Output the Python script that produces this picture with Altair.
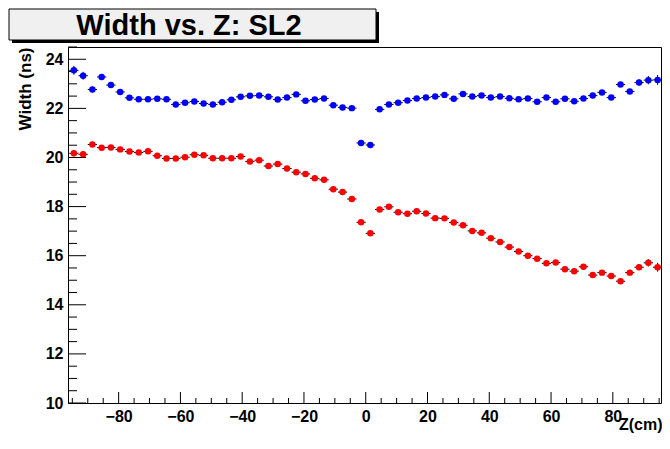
import altair as alt
import pandas as pd

# ---------------- data ----------------
z_centers = [-94.5, -91.5, -88.5, -85.5, -82.5, -79.5, -76.5, -73.5, -70.5, -67.5,
             -64.5, -61.5, -58.5, -55.5, -52.5, -49.5, -46.5, -43.5, -40.5, -37.5,
             -34.5, -31.5, -28.5, -25.5, -22.5, -19.5, -16.5, -13.5, -10.5, -7.5,
             -4.5, -1.5, 1.5, 4.5, 7.5, 10.5, 13.5, 16.5, 19.5, 22.5,
             25.5, 28.5, 31.5, 34.5, 37.5, 40.5, 43.5, 46.5, 49.5, 52.5,
             55.5, 58.5, 61.5, 64.5, 67.5, 70.5, 73.5, 76.5, 79.5, 82.5,
             85.5, 88.5, 91.5, 94.5]
bin_half_width = 1.5

blue_width = [23.55, 23.33, 22.77, 23.28, 22.95, 22.67, 22.43, 22.37, 22.37, 22.39,
              22.37, 22.16, 22.23, 22.28, 22.20, 22.16, 22.25, 22.35, 22.47, 22.51,
              22.52, 22.47, 22.36, 22.44, 22.57, 22.31, 22.36, 22.40, 22.13, 22.04,
              22.01, 20.59, 20.51, 21.96, 22.16, 22.23, 22.32, 22.40, 22.44, 22.48,
              22.55, 22.39, 22.59, 22.48, 22.52, 22.44, 22.48, 22.41, 22.37, 22.40,
              22.27, 22.44, 22.27, 22.39, 22.29, 22.40, 22.52, 22.65, 22.44, 22.97,
              22.69, 23.05, 23.15, 23.16]
blue_err = [0.18, 0.16, 0.12, 0.10, 0.08, 0.07, 0.06, 0.06, 0.05, 0.05,
            0.05, 0.05, 0.05, 0.05, 0.05, 0.05, 0.05, 0.05, 0.05, 0.05,
            0.05, 0.05, 0.05, 0.05, 0.05, 0.05, 0.05, 0.05, 0.05, 0.05,
            0.05, 0.05, 0.05, 0.05, 0.05, 0.05, 0.05, 0.05, 0.05, 0.05,
            0.05, 0.05, 0.05, 0.05, 0.05, 0.05, 0.05, 0.05, 0.05, 0.05,
            0.05, 0.05, 0.05, 0.05, 0.05, 0.06, 0.07, 0.08, 0.10, 0.10,
            0.10, 0.13, 0.17, 0.20]

red_width = [20.17, 20.13, 20.53, 20.40, 20.41, 20.33, 20.24, 20.20, 20.25, 20.07,
             19.96, 19.96, 20.01, 20.11, 20.09, 19.97, 19.97, 19.97, 20.04, 19.84,
             19.89, 19.65, 19.73, 19.55, 19.40, 19.33, 19.15, 19.09, 18.71, 18.59,
             18.31, 17.36, 16.91, 17.88, 17.99, 17.77, 17.71, 17.81, 17.72, 17.53,
             17.52, 17.35, 17.24, 17.01, 16.93, 16.71, 16.56, 16.35, 16.17, 16.00,
             15.88, 15.69, 15.72, 15.45, 15.37, 15.55, 15.21, 15.31, 15.17, 14.96,
             15.31, 15.53, 15.71, 15.53]
red_err = [0.12, 0.12, 0.08, 0.07, 0.06, 0.05, 0.05, 0.05, 0.05, 0.05,
           0.05, 0.05, 0.05, 0.05, 0.05, 0.05, 0.05, 0.05, 0.05, 0.05,
           0.05, 0.05, 0.05, 0.05, 0.05, 0.05, 0.05, 0.05, 0.05, 0.05,
           0.05, 0.05, 0.05, 0.05, 0.05, 0.05, 0.05, 0.05, 0.05, 0.05,
           0.05, 0.05, 0.05, 0.05, 0.05, 0.05, 0.05, 0.05, 0.05, 0.05,
           0.05, 0.05, 0.05, 0.05, 0.05, 0.06, 0.06, 0.07, 0.08, 0.08,
           0.10, 0.12, 0.15, 0.18]

series_names = ["blue", "red"]
series_colors = ["#0000ff", "#ff0000"]

y_major_ticks = [10, 12, 14, 16, 18, 20, 22, 24]
y_minor_ticks = [10.5, 11, 11.5, 12.5, 13, 13.5, 14.5, 15, 15.5, 16.5, 17, 17.5,
                 18.5, 19, 19.5, 20.5, 21, 21.5, 22.5, 23, 23.5, 24.5]
x_major_ticks = [-80, -60, -40, -20, 0, 20, 40, 60, 80]
x_minor_ticks = [-95, -90, -85, -75, -70, -65, -55, -50, -45, -35, -30, -25,
                 -15, -10, -5, 5, 10, 15, 25, 30, 35, 45, 50, 55, 65, 70, 75,
                 85, 90, 95]

title_text = "Width vs. Z: SL2"
x_title = "Z(cm)"
y_title = "Width (ns)"

# ---------------- tables ----------------
rows = []
for name, vals, errs in [("blue", blue_width, blue_err), ("red", red_width, red_err)]:
    for z, w, e in zip(z_centers, vals, errs):
        rows.append({"series": name, "z": z, "w": w,
                     "zlo": z - bin_half_width, "zhi": z + bin_half_width,
                     "wlo": w - e, "whi": w + e})
df = pd.DataFrame(rows)

W, H = 593, 356
FONT = "Liberation Sans"

xscale = alt.Scale(domain=[-96.4, 95.6], nice=False, zero=False)
yscale = alt.Scale(domain=[10, 24.5], nice=False, zero=False)

xaxis = alt.Axis(values=x_major_ticks, title=x_title, domain=False, ticks=False,
                 tickSize=0, grid=False, labelPadding=5, labelFont=FONT,
                 labelFontSize=16, labelFontWeight="bold", labelColor="black",
                 titleFont=FONT, titleFontSize=16, titleFontWeight="bold",
                 titleColor="black", titleAnchor="end", titleAlign="right",
                 titleBaseline="alphabetic", titleX=W + 1, titleY=26,
                 labelFlush=False, labelOverlap=False)
yaxis = alt.Axis(values=y_major_ticks, title=y_title, domain=False, ticks=False,
                 tickSize=0, grid=False, labelPadding=5, labelFont=FONT,
                 labelFontSize=16, labelFontWeight="bold", labelColor="black",
                 titleFont=FONT, titleFontSize=17, titleFontWeight="bold",
                 titleColor="black", titleAnchor="end", titleAlign="right",
                 titleBaseline="alphabetic", titleAngle=270, titleX=-38, titleY=0,
                 labelFlush=False, labelOverlap=False)


def X(f):
    return alt.X(f, type="quantitative", scale=xscale, axis=xaxis)


def Y(f):
    return alt.Y(f, type="quantitative", scale=yscale, axis=yaxis)


hbars = alt.Chart(df).mark_rule(color="black", strokeWidth=1).encode(
    x=X("zlo"), x2="zhi", y=Y("w"))
vbars = alt.Chart(df).mark_rule(color="black", strokeWidth=1).encode(
    x=X("z"), y=Y("wlo"), y2="whi")
points = alt.Chart(df).mark_circle(size=42, opacity=1).encode(
    x=X("z"), y=Y("w"),
    color=alt.Color("series:N", scale=alt.Scale(domain=series_names, range=series_colors),
                    legend=None))

ymaj = alt.Chart(pd.DataFrame({"v": y_major_ticks})).mark_rule(color="black").encode(
    y=Y("v"), x=alt.value(0), x2=alt.value(18))
ymin = alt.Chart(pd.DataFrame({"v": y_minor_ticks})).mark_rule(color="black").encode(
    y=Y("v"), x=alt.value(0), x2=alt.value(9))
xmaj = alt.Chart(pd.DataFrame({"v": x_major_ticks})).mark_rule(color="black").encode(
    x=X("v"), y=alt.value(H), y2=alt.value(H - 11))
xmin = alt.Chart(pd.DataFrame({"v": x_minor_ticks})).mark_rule(color="black").encode(
    x=X("v"), y=alt.value(H), y2=alt.value(H - 5))

one = pd.DataFrame({"t": [title_text]})
shadow = alt.Chart(one).mark_rect(color="black").encode(
    x=alt.value(-56), x2=alt.value(311), y=alt.value(-35), y2=alt.value(-4))
box = alt.Chart(one).mark_rect(fill="#f0f0f0", stroke="black", strokeWidth=1).encode(
    x=alt.value(-59), x2=alt.value(308), y=alt.value(-38), y2=alt.value(-7))
title = alt.Chart(one).mark_text(font=FONT, fontSize=29, fontWeight="bold",
                                  color="black", align="center",
                                  baseline="alphabetic").encode(
    x=alt.value(121), y=alt.value(-12), text="t:N")

chart = alt.layer(ymin, ymaj, xmin, xmaj, hbars, vbars, points, shadow, box, title).properties(
    width=W, height=H,
    autosize=alt.AutoSizeParams(type="none"),
    padding={"left": 60, "top": 39, "right": 1, "bottom": 32},
    background="white",
).configure_view(stroke="black", strokeWidth=1)

chart.save("out.html", embed_options={"renderer": "svg", "actions": False})
